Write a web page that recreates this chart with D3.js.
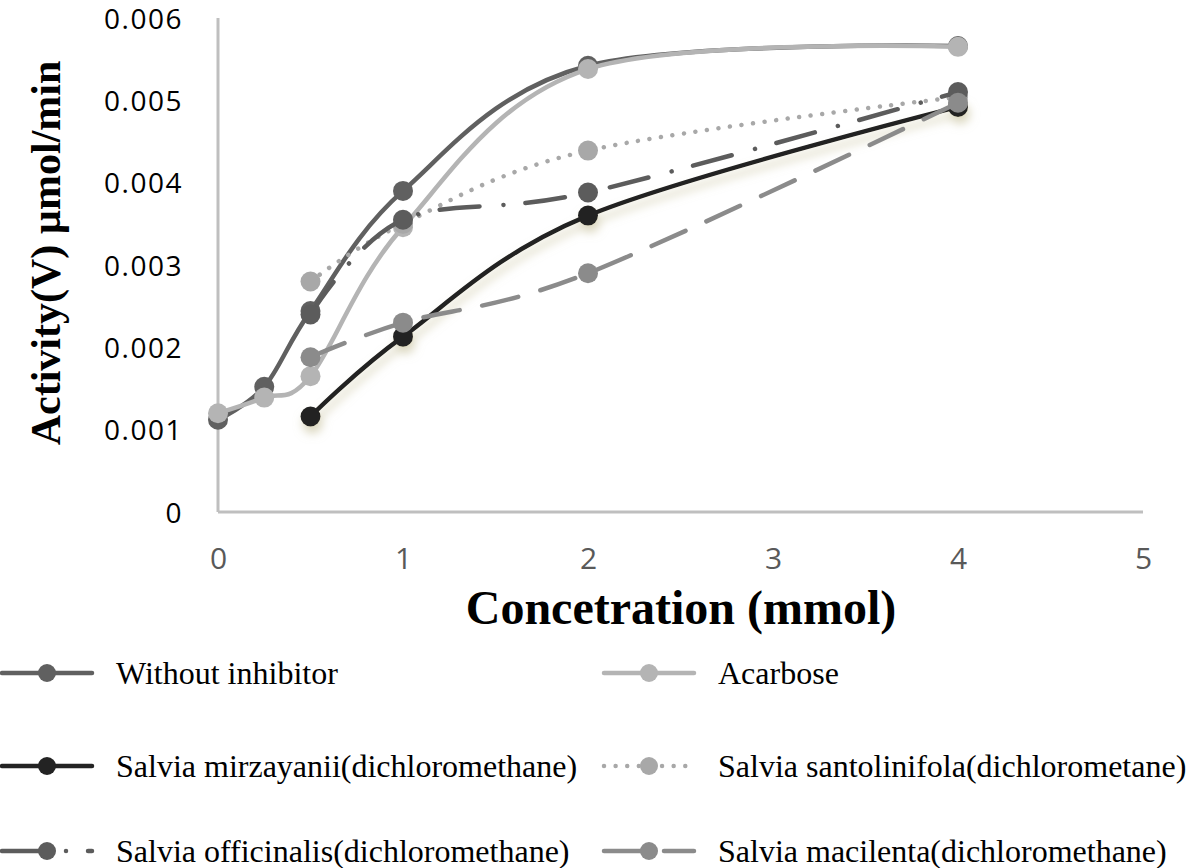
<!DOCTYPE html>
<html><head><meta charset="utf-8">
<script src="https://cdn.jsdelivr.net/npm/d3@7"></script>
<style>body{margin:0;background:#fff}svg{display:block}</style>
</head><body>
<svg id="c" width="1192" height="868"></svg>
<script>
const seriesNames = ["Without inhibitor","Acarbose","Salvia mirzayanii(dichloromethane)","Salvia santolinifola(dichlorometane)","Salvia officinalis(dichloromethane)","Salvia macilenta(dichloromethane)"];
const xWithout = [0,0.25,0.5,1,2,4];
const yWithout = [0.00112,0.00152,0.00244,0.0039,0.00542,0.00566];
const xAcarbose = [0,0.25,0.5,1,2,4];
const yAcarbose = [0.0012,0.00139,0.00165,0.00346,0.00538,0.00565];
const xMirzayanii = [0.5,1,2,4];
const yMirzayanii = [0.00116,0.00213,0.0036,0.00492];
const xSantolinifola = [0.5,1,2,4];
const ySantolinifola = [0.0028,0.0035,0.00439,0.00504];
const xOfficinalis = [0.5,1,2,4];
const yOfficinalis = [0.0024,0.00355,0.00388,0.0051];
const xMacilenta = [0.5,1,2,4];
const yMacilenta = [0.00188,0.0023,0.0029,0.00497];
const xTicks = [0,1,2,3,4,5];
const yTicks = [0,0.001,0.002,0.003,0.004,0.005,0.006];
const yTickLabels = ["0","0.001","0.002","0.003","0.004","0.005","0.006"];

const colors = ["#606060","#b4b4b4","#232323","#a8a8a8","#5c5c5c","#8b8b8b"];
const dashes = [null,null,null,"0.01 11.6","40 24 0.01 22","37 23"];
const xs = [xWithout,xAcarbose,xMirzayanii,xSantolinifola,xOfficinalis,xMacilenta];
const ys = [yWithout,yAcarbose,yMirzayanii,ySantolinifola,yOfficinalis,yMacilenta];

const svg = d3.select("#c");
const x = d3.scaleLinear().domain([0,5]).range([218,1143]);
const y = d3.scaleLinear().domain([0,0.006]).range([512,18]);

const defs = svg.append("defs");
const f = defs.append("filter").attr("id","sh").attr("x","-20%").attr("y","-20%").attr("width","140%").attr("height","160%");
f.append("feGaussianBlur").attr("in","SourceAlpha").attr("stdDeviation",5).attr("result","b");
f.append("feOffset").attr("in","b").attr("dx",2).attr("dy",7).attr("result","o");
f.append("feFlood").attr("flood-color","#bdb68a").attr("flood-opacity",0.55).attr("result","fl");
f.append("feComposite").attr("in","fl").attr("in2","o").attr("operator","in").attr("result","s");
const m = f.append("feMerge"); m.append("feMergeNode").attr("in","s"); m.append("feMergeNode").attr("in","SourceGraphic");

// axes
const xAxis = d3.axisBottom(x).tickValues(xTicks).tickSize(0).tickFormat(d3.format("d"));
const gx = svg.append("g").attr("transform","translate(0,512)").call(xAxis);
gx.select(".domain").attr("stroke","#bfbfbf").attr("stroke-width",3).attr("d","M218,0H1143");
gx.selectAll("text").attr("dy",0).attr("y",57).attr("fill","#595959").style("font-family","'Open Sans',sans-serif").style("font-size","30px");

const yAxis = d3.axisLeft(y).tickValues(yTicks).tickSize(0).tickFormat((d,i)=>yTickLabels[i]);
const gy = svg.append("g").attr("transform","translate(218,0)").call(yAxis);
gy.select(".domain").attr("stroke","#bfbfbf").attr("stroke-width",3).attr("d","M0,18V512");
gy.selectAll("text").attr("x",-35).attr("dy","0.36em").attr("fill","#000").style("font-family","'Open Sans',sans-serif").style("font-size","28px").style("letter-spacing","1.5px");

svg.append("text").attr("x",681).attr("y",624).attr("text-anchor","middle")
  .style("font-family","'Liberation Serif',serif").style("font-weight","bold").style("font-size","48px").text("Concetration (mmol)");
svg.append("text").attr("transform","translate(60,253) rotate(-90)").attr("text-anchor","middle")
  .style("font-family","'Liberation Serif',serif").style("font-weight","bold").style("font-size","42px").text("Activity(V) µmol/min");

const line = d3.line().x(d=>x(d[0])).y(d=>y(d[1])).curve(d3.curveCardinal.tension(0));
seriesNames.forEach((n,i)=>{
  const pts = xs[i].map((v,j)=>[v,ys[i][j]]);
  const g = svg.append("g");
  if(i===2) g.attr("filter","url(#sh)");
  g.append("path").datum(pts).attr("d",line).attr("fill","none").attr("stroke",colors[i])
    .attr("stroke-width",4.5).attr("stroke-linecap","round").attr("stroke-dasharray",dashes[i]);
  g.selectAll("circle").data(pts).join("circle").attr("cx",d=>x(d[0])).attr("cy",d=>y(d[1])).attr("r",10).attr("fill",colors[i]);
});

// legend
const legPos = [[0,673],[602,673],[0,766],[602,766],[0,851],[602,851]];
seriesNames.forEach((n,i)=>{
  const [lx,ly] = legPos[i];
  const g = svg.append("g").attr("transform",`translate(${lx},${ly})`);
  g.append("path").attr("d","M2,0H92").attr("stroke",colors[i]).attr("stroke-width",4.5).attr("stroke-linecap","round").attr("stroke-dasharray",dashes[i]);
  g.append("circle").attr("cx",47).attr("cy",0).attr("r",9).attr("fill",colors[i]);
  g.append("text").attr("x",116).attr("y",0).attr("dy","0.33em")
    .style("font-family","'Liberation Serif',serif").style("font-size","32px").text(n);
});
</script>
</body></html>
